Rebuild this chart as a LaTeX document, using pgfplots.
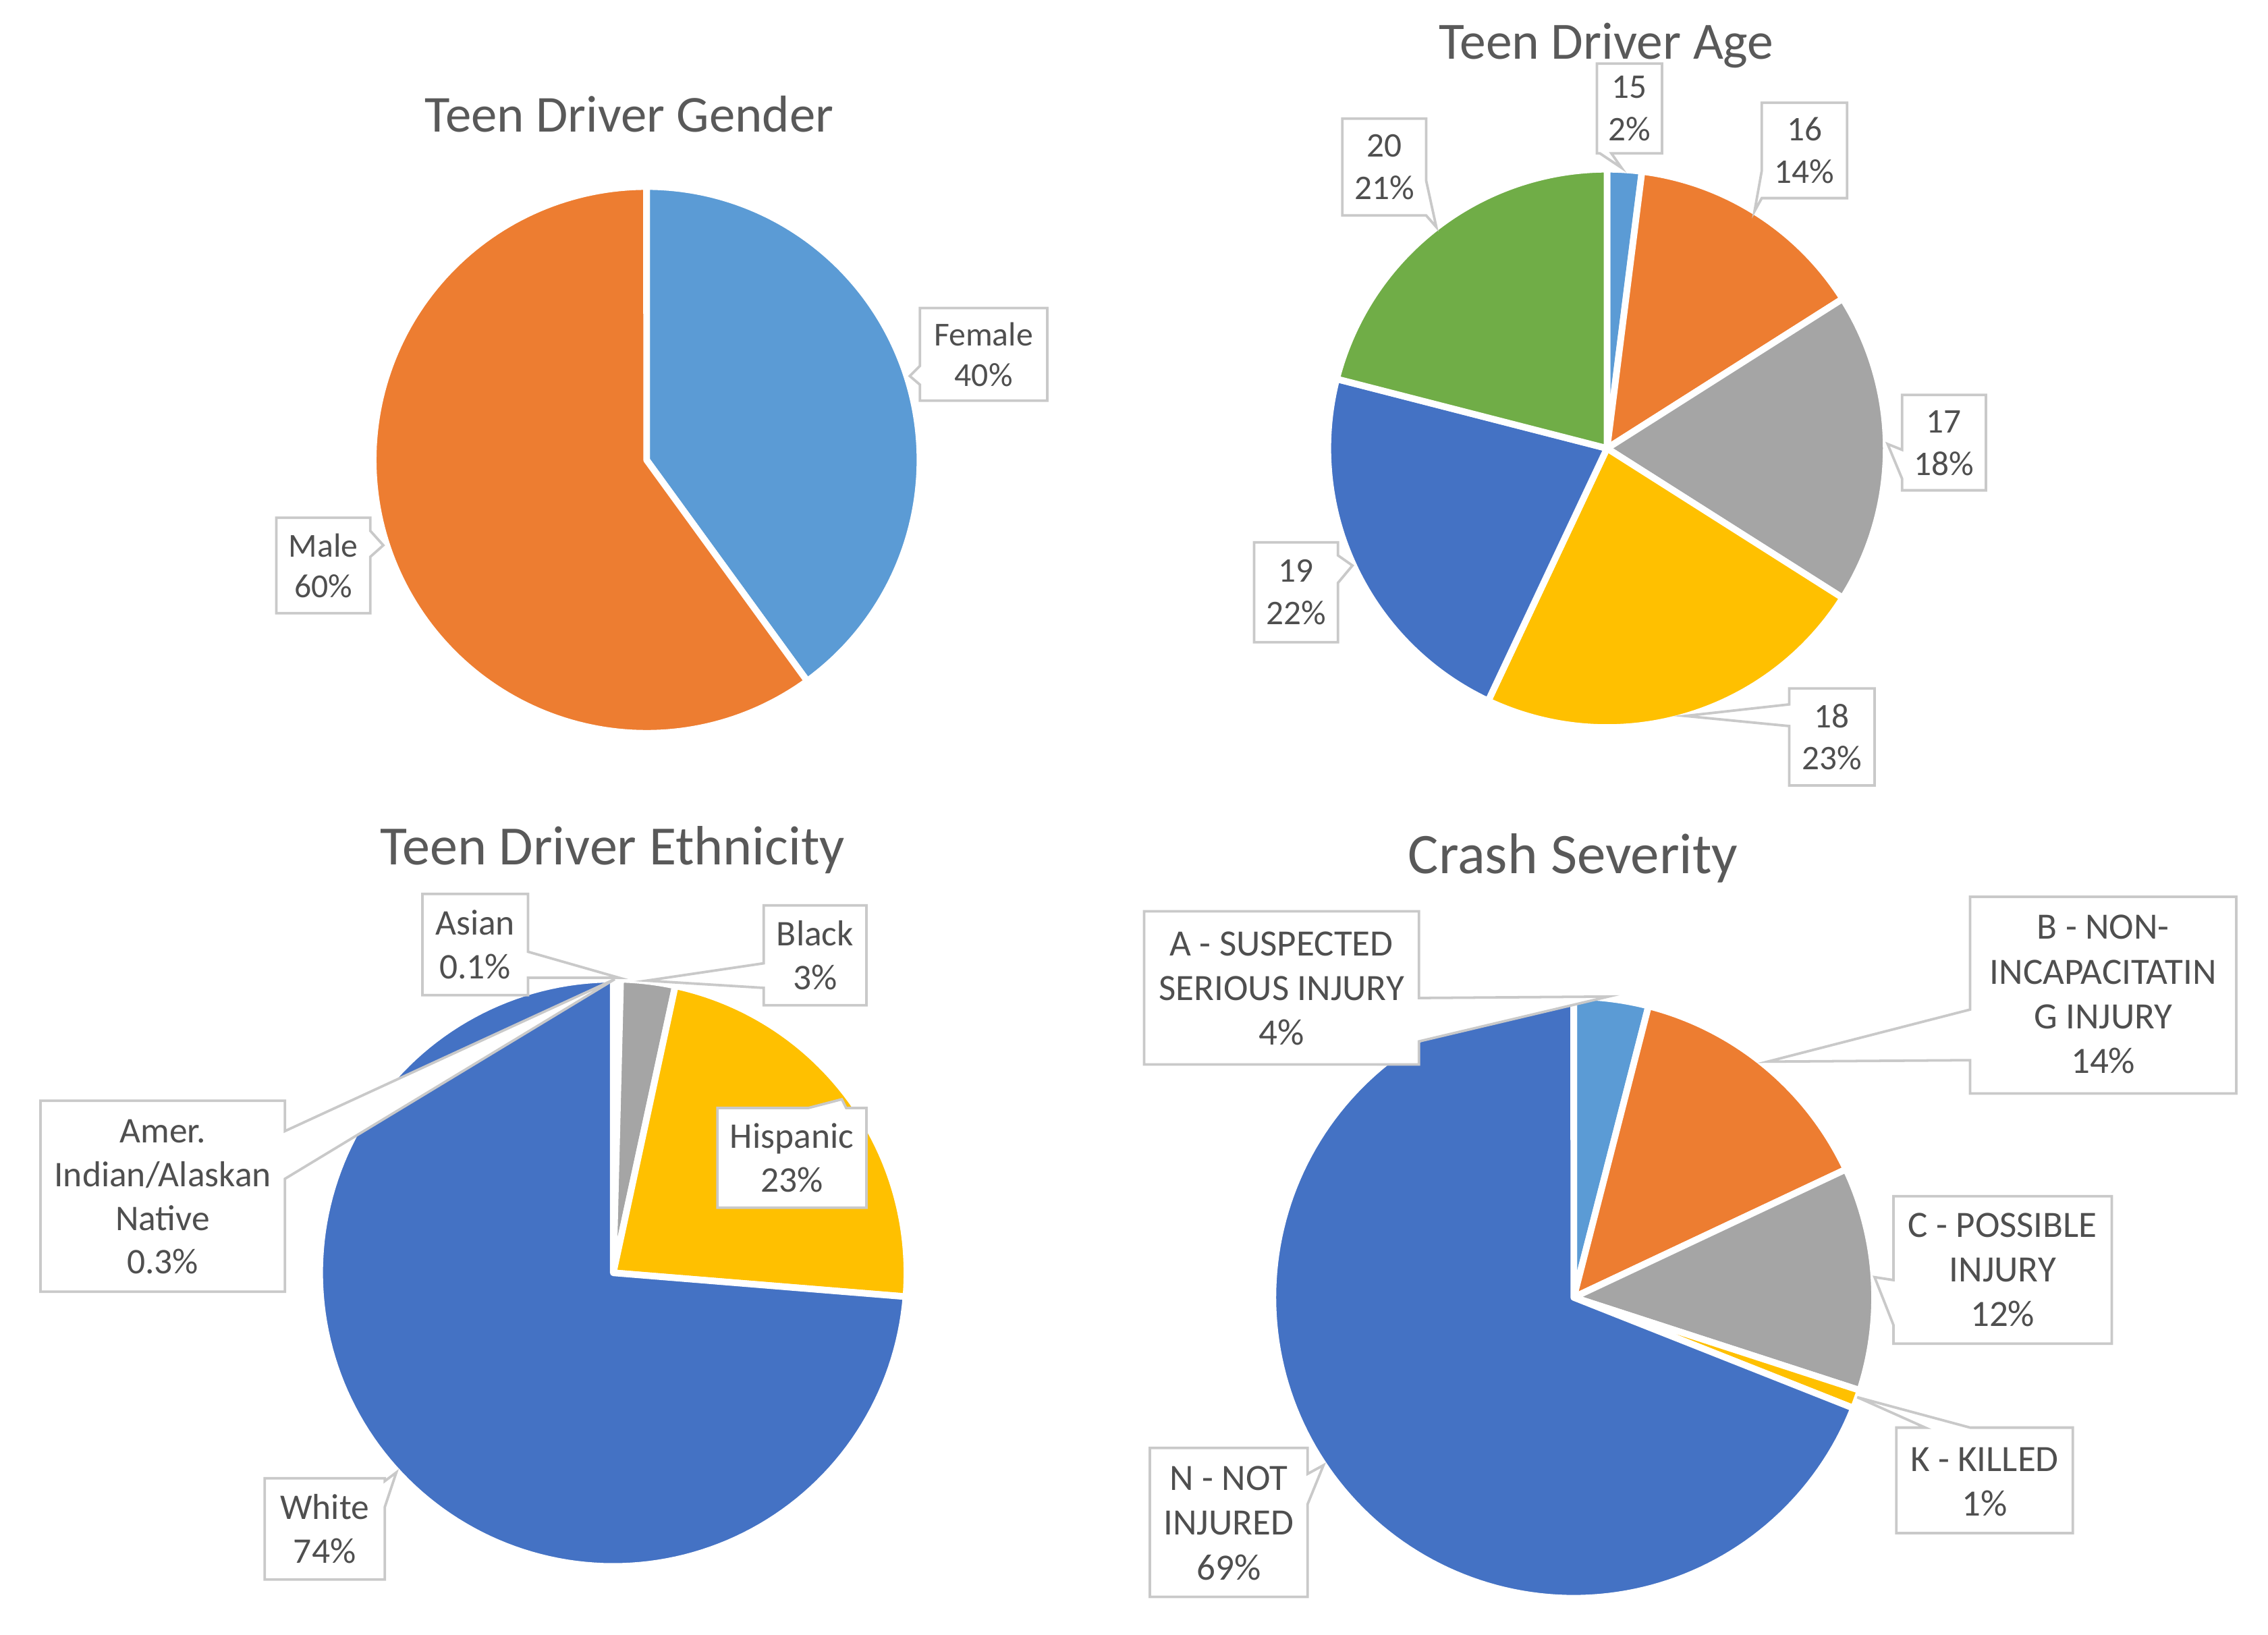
\documentclass[border=0pt]{standalone}
\usepackage{pgfplots}
\pgfplotsset{compat=1.18}
\usepackage{fontspec}
\setmainfont{Carlito}

\definecolor{cA}{HTML}{5B9BD5}
\definecolor{cB}{HTML}{ED7D31}
\definecolor{cC}{HTML}{A5A5A5}
\definecolor{cD}{HTML}{FFC000}
\definecolor{cE}{HTML}{4472C4}
\definecolor{cF}{HTML}{70AD47}
\definecolor{titlegray}{HTML}{595959}
\definecolor{labelgray}{HTML}{4F4F4F}
\definecolor{calloutline}{HTML}{C9C9C9}

% one pie wedge: centre x, centre y, radius, total, start (cumulative), value, colour
% wedges run clockwise from 12 o'clock
\newcommand{\slice}[7]{%
  \addplot[draw=white, line width=1.3pt, line join=round, fill=#7,
           domain=0:1, samples=150, variable=\t]
    ({#1 + #3*cos(90 - 360*(#5 + #6*\t)/#4)},
     {#2 - #3*sin(90 - 360*(#5 + #6*\t)/#4)}) -- (#1,#2) -- cycle;
}

% callout boxes: x1, y1 (top), x2, y2 (bottom), pointer base a, b, tip x, tip y
\newcommand{\boxL}[8]{\draw[callout] (#1,#2) -- (#3,#2) -- (#3,#4) -- (#1,#4) -- (#1,#6) -- (#7,#8) -- (#1,#5) -- cycle;}
\newcommand{\boxR}[8]{\draw[callout] (#1,#2) -- (#3,#2) -- (#3,#5) -- (#7,#8) -- (#3,#6) -- (#3,#4) -- (#1,#4) -- cycle;}
\newcommand{\boxT}[8]{\draw[callout] (#1,#2) -- (#5,#2) -- (#7,#8) -- (#6,#2) -- (#3,#2) -- (#3,#4) -- (#1,#4) -- cycle;}
\newcommand{\boxB}[8]{\draw[callout] (#1,#2) -- (#3,#2) -- (#3,#4) -- (#6,#4) -- (#7,#8) -- (#5,#4) -- (#1,#4) -- cycle;}

\tikzset{
  callout/.style={draw=calloutline, fill=white, line width=0.5pt, line join=miter},
  ttl/.style={text=titlegray, anchor=base, inner sep=0pt},
  lbl/.style={text=labelgray, align=center, inner sep=0pt},
}

\begin{document}
\begin{tikzpicture}
\begin{axis}[
  name=canvas,
  at={(0,0)}, anchor=south west,
  width=15.68cm, height=11.30cm, scale only axis,
  xmin=0, xmax=1568, ymin=0, ymax=1130, y dir=reverse,
  hide axis, clip=false,
]

% ---------------- Teen Driver Gender ----------------
\slice{447}{318}{189}{100}{0}{40}{cA}   % Female
\slice{447}{318}{189}{100}{40}{60}{cB}  % Male
\node[ttl, font=\fontsize{10.2}{12}\selectfont] at (435,91) {Teen Driver Gender};
\boxL{636}{213}{724}{277}{253}{266}{629}{260}
\node[lbl, font=\fontsize{6.6}{8.0}\selectfont] at (680,245) {Female\\40\%};
\boxR{191}{358}{256}{424}{367}{385}{265}{377}
\node[lbl, font=\fontsize{6.6}{8.0}\selectfont] at (223.5,391) {Male\\60\%};

% ---------------- Teen Driver Age ----------------
\slice{1111}{310}{193}{100}{0}{2}{cA}    % 15
\slice{1111}{310}{193}{100}{2}{14}{cB}   % 16
\slice{1111}{310}{193}{100}{16}{18}{cC}  % 17
\slice{1111}{310}{193}{100}{34}{23}{cD}  % 18
\slice{1111}{310}{193}{100}{57}{22}{cE}  % 19
\slice{1111}{310}{193}{100}{79}{21}{cF}  % 20
\node[ttl, font=\fontsize{10.3}{12}\selectfont] at (1110.5,41) {Teen Driver Age};
\boxB{1104}{44}{1149}{106}{1106}{1114}{1121}{116}
\node[lbl, font=\fontsize{6.8}{8.3}\selectfont] at (1126.5,75) {15\\2\%};
\boxL{1218}{71}{1277}{137}{118}{137}{1213}{146}
\node[lbl, font=\fontsize{6.8}{8.3}\selectfont] at (1247.5,104) {16\\14\%};
\boxL{1315}{273}{1373}{339}{311}{331}{1305}{307}
\node[lbl, font=\fontsize{6.8}{8.3}\selectfont] at (1344,306.5) {17\\18\%};
\boxL{1237}{476}{1296}{543}{487}{502}{1165}{495}
\node[lbl, font=\fontsize{6.8}{8.3}\selectfont] at (1266.5,509.5) {18\\23\%};
\boxR{867}{375}{925}{444}{384}{403}{935}{391}
\node[lbl, font=\fontsize{6.8}{8.3}\selectfont] at (896,409.5) {19\\22\%};
\boxR{928}{82}{986}{149}{125}{149}{993}{157}
\node[lbl, font=\fontsize{6.8}{8.3}\selectfont] at (957,115.5) {20\\21\%};

% ---------------- Teen Driver Ethnicity ----------------
\slice{424}{880}{203}{100.4}{0}{0.3}{cA}    % Amer. Indian/Alaskan Native
\slice{424}{880}{203}{100.4}{0.3}{0.1}{cB}  % Asian
\slice{424}{880}{203}{100.4}{0.4}{3}{cC}    % Black
\slice{424}{880}{203}{100.4}{3.4}{23}{cD}   % Hispanic
\slice{424}{880}{203}{100.4}{26.4}{74}{cE}  % White
\node[ttl, font=\fontsize{10.9}{13}\selectfont] at (423.5,598) {Teen Driver Ethnicity};
\boxR{292}{618}{365}{688}{658}{676}{428}{676}
\node[lbl, font=\fontsize{7.1}{8.6}\selectfont] at (328.5,653) {Asian\\0.1\%};
\boxL{528}{626}{599}{695}{666}{683}{447}{678}
\node[lbl, font=\fontsize{7.1}{8.6}\selectfont] at (563.5,660.5) {Black\\3\%};
\boxR{28}{761}{197}{893}{782}{815}{425}{677}
\node[lbl, font=\fontsize{7.1}{8.6}\selectfont] at (112.5,827.5) {Amer.\\Indian/Alaskan\\Native\\0.3\%};
\boxT{496}{766}{599}{835}{559}{585}{582}{760}
\node[lbl, font=\fontsize{7.1}{8.6}\selectfont] at (547.5,800.5) {Hispanic\\23\%};
\boxR{183}{1022}{266}{1092}{1024}{1042}{274}{1018}
\node[lbl, font=\fontsize{7.1}{8.6}\selectfont] at (224.5,1057) {White\\74\%};

% ---------------- Crash Severity ----------------
\slice{1088}{897}{208}{100}{0}{4}{cA}    % A
\slice{1088}{897}{208}{100}{4}{14}{cB}   % B
\slice{1088}{897}{208}{100}{18}{12}{cC}  % C
\slice{1088}{897}{208}{100}{30}{1}{cD}   % K
\slice{1088}{897}{208}{100}{31}{69}{cE}  % N
\node[ttl, font=\fontsize{11.3}{13}\selectfont] at (1087.5,604) {Crash Severity};
\boxR{791}{630}{981}{736}{690}{720}{1112}{689}
\node[lbl, font=\fontsize{7.3}{8.8}\selectfont] at (886,683.5) {A - SUSPECTED\\SERIOUS INJURY\\4\%};
\boxL{1362}{620}{1546}{756}{698}{733}{1222}{734}
\node[lbl, font=\fontsize{7.3}{8.8}\selectfont] at (1454,687.5) {B - NON-\\INCAPACITATIN\\G INJURY\\14\%};
\boxL{1309}{827}{1460}{929}{885}{916}{1296}{883}
\node[lbl, font=\fontsize{7.3}{8.8}\selectfont] at (1384.5,878) {C - POSSIBLE\\INJURY\\12\%};
\boxT{1311}{987}{1433}{1060}{1331}{1362}{1284}{966}
\node[lbl, font=\fontsize{7.3}{8.8}\selectfont] at (1372,1024.5) {K - KILLED\\1\%};
\boxR{795}{1001}{904}{1104}{1019}{1040}{915}{1013}
\node[lbl, font=\fontsize{7.3}{8.8}\selectfont] at (849.5,1053) {N - NOT\\INJURED\\69\%};

\end{axis}
\pgfresetboundingbox
\path[use as bounding box] (canvas.south west) rectangle (canvas.north east);
\end{tikzpicture}
\end{document}
